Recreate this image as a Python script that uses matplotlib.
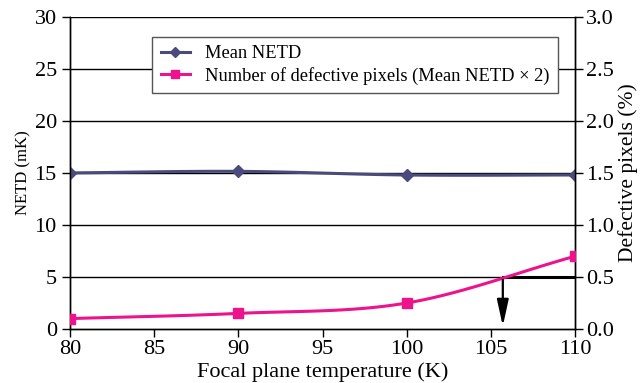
import numpy as np
import matplotlib
matplotlib.use('Agg')
import matplotlib.pyplot as plt

plt.rcParams['font.family'] = ['Liberation Serif', 'DejaVu Serif']

# focal plane temperature (K)
temps = [80, 90, 100, 110]
# mean NETD (mK), left axis
netd = [15.0, 15.15, 14.8, 14.8]
# defective pixels (%), right axis
defects = [0.1, 0.15, 0.25, 0.7]
# temperature where defective pixels reach 0.5 %
t_limit = 105.7
defect_limit = 0.5

netd_col = '#4a4a7c'
pink = '#ec138c'


def smooth(x, y, n=30):
    # catmull-rom curve through the points, like a spreadsheet smoothed line
    x = np.asarray(x, float)
    y = np.asarray(y, float)
    px = np.concatenate([[2 * x[0] - x[1]], x, [2 * x[-1] - x[-2]]])
    py = np.concatenate([[2 * y[0] - y[1]], y, [2 * y[-1] - y[-2]]])
    xs, ys = [], []
    t = np.linspace(0, 1, n)
    for i in range(1, len(px) - 2):
        for p, out in ((px, xs), (py, ys)):
            p0, p1, p2, p3 = p[i - 1], p[i], p[i + 1], p[i + 2]
            out.extend(0.5 * (2 * p1 + (-p0 + p2) * t
                              + (2 * p0 - 5 * p1 + 4 * p2 - p3) * t ** 2
                              + (-p0 + 3 * p1 - 3 * p2 + p3) * t ** 3))
    return np.array(xs), np.array(ys)


fig = plt.figure(figsize=(6.42, 3.83), dpi=100)
ax = fig.add_axes([0.109, 0.141, 0.787, 0.815])
ax2 = ax.twinx()

ax.set_xlim(80, 110)
ax.set_ylim(0, 30)
ax2.set_ylim(0, 3.0)
ax.set_xticks(range(80, 111, 5))
ax.set_yticks(range(0, 31, 5))
ax2.set_yticks(np.arange(0, 3.01, 0.5))
ax2.set_yticklabels(['%.1f' % v for v in np.arange(0, 3.01, 0.5)])

for y in range(5, 31, 5):
    ax.axhline(y, color='black', lw=1.0, zorder=0)

sx, sy = smooth(temps, netd)
ax.plot(sx, sy, color=netd_col, lw=2.2, zorder=3)
ax.plot(temps, netd, ls='none', marker='D', ms=6, color=netd_col, zorder=4)

dx, dy = smooth(temps, defects)
ax2.plot(dx, dy, color=pink, lw=2.2, zorder=3)
ax2.plot(temps, defects, ls='none', marker='s', ms=7, color=pink, zorder=4)

# threshold marker: horizontal bar and arrow down to the axis
ax2.plot([t_limit, 110], [defect_limit, defect_limit], color='black', lw=2.2, zorder=2)
ax2.annotate('', xy=(t_limit, 0.0), xytext=(t_limit, defect_limit),
             arrowprops=dict(arrowstyle='-|>,head_width=0.35,head_length=1.6',
                             color='black', lw=1.6), zorder=5)

for a in (ax, ax2):
    for s in a.spines.values():
        s.set_linewidth(1.0)
    a.tick_params(labelsize=16, length=6, width=1.0, direction='out')
ax.spines['top'].set_visible(False)
ax2.spines['top'].set_visible(False)
ax.tick_params(axis='x', pad=2)
ax2.tick_params(axis='y', pad=2)

ax.set_xlabel('Focal plane temperature (K)', fontsize=16, labelpad=2)
ax.set_ylabel('NETD (mK)', fontsize=12, labelpad=2)
ax2.set_ylabel('Defective pixels (%)', fontsize=15.5, labelpad=3)

h1, = ax.plot([], [], color=netd_col, lw=2.2, marker='D', ms=5)
h2, = ax.plot([], [], color=pink, lw=2.2, marker='s', ms=6)
leg = ax2.legend([h1, h2], ['Mean NETD', 'Number of defective pixels (Mean NETD \u00d7 2)'],
                 loc='upper left', bbox_to_anchor=(0.163, 0.935), fontsize=13.3,
                 frameon=True, fancybox=False, framealpha=1, edgecolor='#555555',
                 handlelength=1.6, borderpad=0.45, labelspacing=0.25,
                 borderaxespad=0)
leg.get_frame().set_linewidth(1.0)

fig.savefig('out.png', dpi=100)
